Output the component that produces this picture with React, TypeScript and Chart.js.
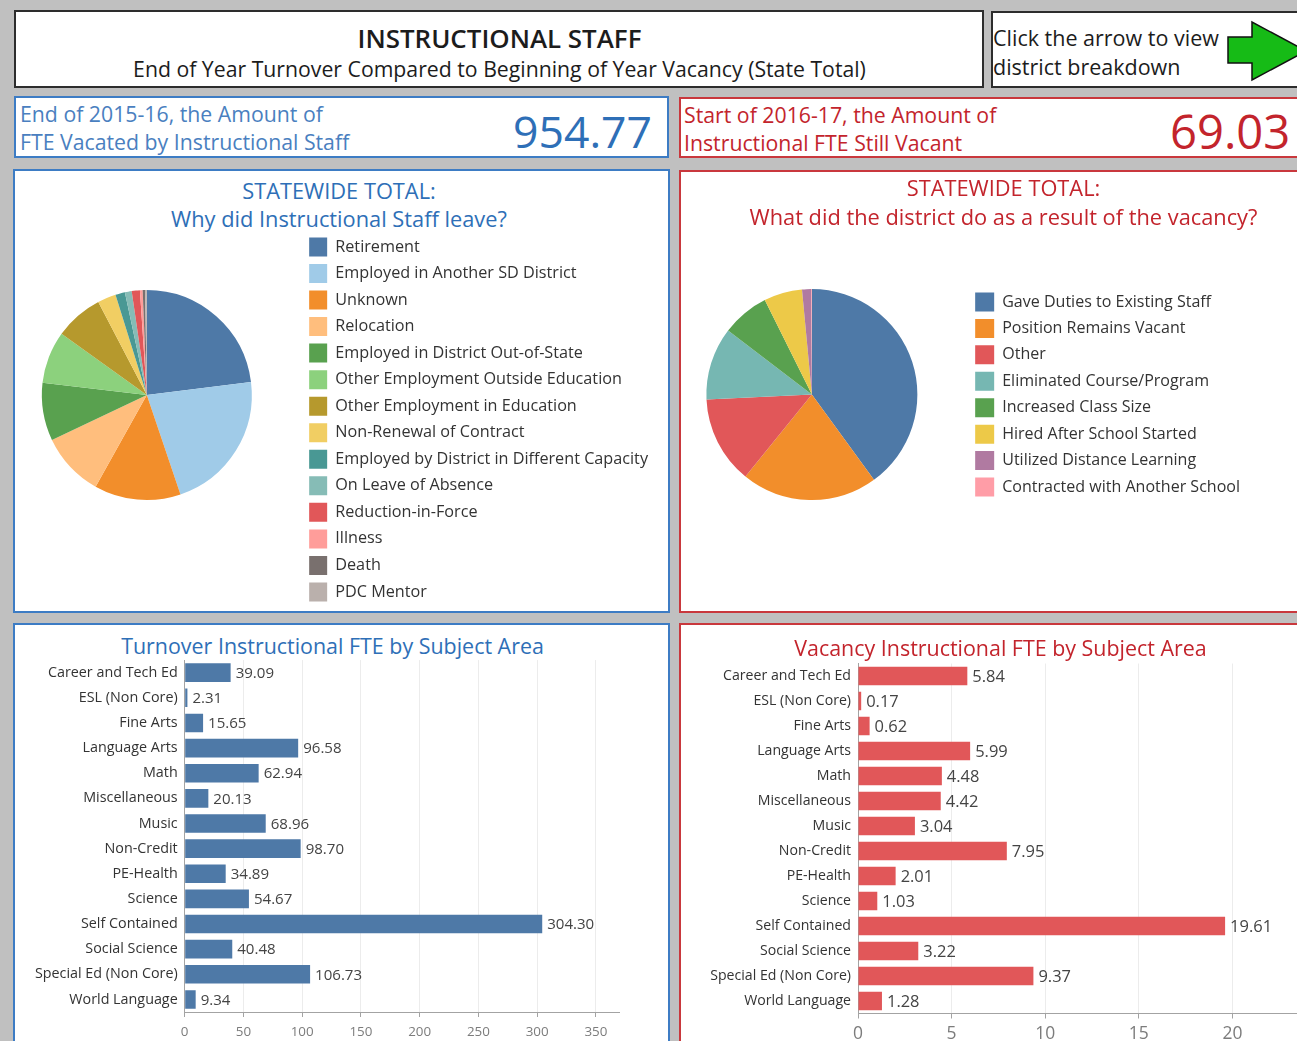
import React, { useEffect, useRef } from 'react';
import { Chart, registerables } from 'chart.js';

Chart.register(...registerables);

const FONT = '"Open Sans", "Noto Sans", sans-serif';
Chart.defaults.font.family = FONT;

// ---------------- data ----------------
const totalVacated = 954.77;
const totalStillVacant = 69.03;

const leaveReasons = [
  'Retirement',
  'Employed in Another SD District',
  'Unknown',
  'Relocation',
  'Employed in District Out-of-State',
  'Other Employment Outside Education',
  'Other Employment in Education',
  'Non-Renewal of Contract',
  'Employed by District in Different Capacity',
  'On Leave of Absence',
  'Reduction-in-Force',
  'Illness',
  'Death',
  'PDC Mentor',
];
const leaveFTE = [219.77, 208, 127, 94, 85, 77, 71, 27, 14, 10, 12, 4, 3.5, 2.5];
const leaveColors = [
  '#4e79a7', '#a0cbe8', '#f28e2b', '#ffbe7d', '#59a14f', '#8cd17d', '#b6992d',
  '#f1ce63', '#499894', '#86bcb6', '#e15759', '#ff9d9a', '#79706e', '#bab0ac',
];

const vacancyActions = [
  'Gave Duties to Existing Staff',
  'Position Remains Vacant',
  'Other',
  'Eliminated Course/Program',
  'Increased Class Size',
  'Hired After School Started',
  'Utilized Distance Learning',
  'Contracted with Another School',
];
const vacancyActionFTE = [27.6, 14.4, 9.25, 7.7, 5.0, 4.05, 0.95, 0.08];
const vacancyActionColors = ['#4e79a7', '#f28e2b', '#e15759', '#76b7b2', '#59a14f', '#edc948', '#b07aa1', '#ff9da7'];

const subjectAreas = [
  'Career and Tech Ed',
  'ESL (Non Core)',
  'Fine Arts',
  'Language Arts',
  'Math',
  'Miscellaneous',
  'Music',
  'Non-Credit',
  'PE-Health',
  'Science',
  'Self Contained',
  'Social Science',
  'Special Ed (Non Core)',
  'World Language',
];
const turnoverFTE = [39.09, 2.31, 15.65, 96.58, 62.94, 20.13, 68.96, 98.7, 34.89, 54.67, 304.3, 40.48, 106.73, 9.34];
const vacancyFTE = [5.84, 0.17, 0.62, 5.99, 4.48, 4.42, 3.04, 7.95, 2.01, 1.03, 19.61, 3.22, 9.37, 1.28];
const turnoverTicks = [0, 50, 100, 150, 200, 250, 300, 350];
const turnoverAxisMax = 370;
const vacancyTicks = [0, 5, 10, 15, 20, 25];
const vacancyAxisMax = 25;

// ---------------- helpers ----------------
let measureCtx: CanvasRenderingContext2D | null = null;
function textWidth(text: string, size: number, weight: string = 'normal') {
  if (!measureCtx) measureCtx = document.createElement('canvas').getContext('2d');
  measureCtx!.font = `${weight} ${size}px ${FONT}`;
  return measureCtx!.measureText(text).width;
}
function fitSize(text: string, target: number, weight: string = 'normal') {
  return (100 * target) / textWidth(text, 100, weight);
}

const PAGE_W = 1297;
const PAGE_H = 1041;

function Txt(props: { text: string; x: number; cy: number; align?: string; size: number; color: string; weight?: string }) {
  const { text, x, cy, align = 'left', size, color, weight = 'normal' } = props;
  const lh = Math.round(size * 1.4);
  const style: any = {
    position: 'absolute',
    top: cy - lh / 2,
    height: lh,
    lineHeight: lh + 'px',
    fontSize: size,
    fontFamily: FONT,
    fontWeight: weight,
    color,
    whiteSpace: 'nowrap',
  };
  if (align === 'left') style.left = x;
  else if (align === 'right') style.right = PAGE_W - x;
  else {
    style.left = x - 700;
    style.width = 1400;
    style.textAlign = 'center';
  }
  return <div style={style}>{text}</div>;
}

function Panel(props: { x: number; y: number; w: number; h: number; border: string }) {
  const { x, y, w, h, border } = props;
  return (
    <div
      style={{
        position: 'absolute',
        left: x,
        top: y,
        width: w,
        height: h,
        boxSizing: 'border-box',
        background: '#ffffff',
        border,
      }}
    />
  );
}

const valueLabelPlugin = {
  id: 'valueLabels',
  afterDatasetsDraw(chart: any, _args: any, opts: any) {
    const ctx = chart.ctx;
    const meta = chart.getDatasetMeta(0);
    const data = chart.data.datasets[0].data;
    ctx.save();
    ctx.font = `${opts.size}px ${FONT}`;
    ctx.fillStyle = opts.color;
    ctx.textBaseline = 'middle';
    ctx.textAlign = 'left';
    meta.data.forEach((bar: any, i: number) => {
      const p = bar.getProps(['x', 'y'], true);
      ctx.fillText(Number(data[i]).toFixed(2), p.x + opts.gap, p.y + 1);
    });
    ctx.restore();
  },
};

function PieChart(props: {
  labels: string[];
  values: number[];
  colors: string[];
  cx: number;
  radius: number;
  boxLeft: number;
  boxW: number;
  boxH: number;
  spacing: number;
  fontSize: number;
  align: 'start' | 'center' | 'end';
  top: number;
  height: number;
}) {
  const { labels, values, colors, cx, radius, boxLeft, boxW, boxH, spacing, fontSize, align, top, height } = props;
  const ref = useRef<HTMLCanvasElement>(null);
  const itemH = Math.max(boxH, fontSize);
  const pad = spacing - itemH;
  const maxText = Math.max(...labels.map((l) => textWidth(l, fontSize)));
  const legendLeft = boxLeft - pad;
  const canvasLeft = Math.round(2 * cx - legendLeft);
  const legendWidth = pad + boxW + fontSize / 2 + maxText + 10;
  const width = Math.round(legendLeft - canvasLeft + legendWidth);

  useEffect(() => {
    const chart = new Chart(ref.current!, {
      type: 'pie',
      data: {
        labels,
        datasets: [{ data: values, backgroundColor: colors, borderWidth: 0, radius } as any],
      },
      options: {
        responsive: false,
        animation: false,
        devicePixelRatio: 1,
        layout: { padding: 0 },
        plugins: {
          legend: {
            position: 'right',
            align,
            maxWidth: 3000,
            labels: {
              boxWidth: boxW,
              boxHeight: boxH,
              padding: pad,
              color: '#333333',
              font: { family: FONT, size: fontSize },
            },
          } as any,
          tooltip: { enabled: false },
        },
      },
    });
    return () => chart.destroy();
  }, []);

  return (
    <canvas
      ref={ref}
      width={width}
      height={height}
      style={{ position: 'absolute', left: canvasLeft, top, width, height }}
    />
  );
}

function HBarChart(props: {
  labels: string[];
  values: number[];
  color: string;
  ticks: number[];
  max: number;
  left: number;
  top: number;
  width: number;
  height: number;
  areaLeft: number;
  areaTop: number;
  areaRight: number;
  areaBottom: number;
  catSize: number;
  valSize: number;
  tickSize: number;
  tickPad: number;
}) {
  const p = props;
  const ref = useRef<HTMLCanvasElement>(null);
  useEffect(() => {
    const chart = new Chart(ref.current!, {
      type: 'bar',
      data: {
        labels: p.labels,
        datasets: [
          {
            data: p.values,
            backgroundColor: p.color,
            borderWidth: 0,
            categoryPercentage: 1,
            barPercentage: 0.74,
          },
        ],
      },
      options: {
        indexAxis: 'y',
        responsive: false,
        animation: false,
        devicePixelRatio: 1,
        layout: {
          padding: { top: p.areaTop - p.top, right: p.left + p.width - p.areaRight, left: 0, bottom: 0 },
        },
        plugins: {
          legend: { display: false },
          tooltip: { enabled: false },
          valueLabels: { size: p.valSize, color: '#444444', gap: 5 },
        } as any,
        scales: {
          y: {
            afterFit: (s: any) => {
              s.width = p.areaLeft - p.left;
            },
            grid: { display: false, drawTicks: false },
            border: { display: true, color: '#a3a3a3', width: 1 },
            ticks: { color: '#333333', padding: 7, autoSkip: false, font: { family: FONT, size: p.catSize } },
          },
          x: {
            min: 0,
            max: p.max,
            afterBuildTicks: (s: any) => {
              s.ticks = p.ticks.map((v) => ({ value: v }));
            },
            afterFit: (s: any) => {
              s.height = p.top + p.height - p.areaBottom;
            },
            grid: { color: '#ececec', tickColor: '#a3a3a3', tickLength: 5 },
            border: { display: true, color: '#a3a3a3', width: 1 },
            ticks: { color: '#7c7c7c', padding: p.tickPad, font: { family: FONT, size: p.tickSize } },
          },
        },
      } as any,
      plugins: [valueLabelPlugin],
    });
    return () => chart.destroy();
  }, []);
  return (
    <canvas
      ref={ref}
      width={p.width}
      height={p.height}
      style={{ position: 'absolute', left: p.left, top: p.top, width: p.width, height: p.height }}
    />
  );
}

// ---------------- app ----------------
export default function App() {
  const titleSize = fitSize('INSTRUCTIONAL STAFF', 284, '600');
  const subSize = fitSize('End of Year Turnover Compared to Beginning of Year Vacancy (State Total)', 733);
  const arrowSize = fitSize('Click the arrow to view', 226);
  const kpiSize = fitSize('End of 2015-16, the Amount of', 303);
  const kpiNumSize = fitSize(totalVacated.toFixed(2), 139);
  const pieTitleSize = fitSize('Why did Instructional Staff leave?', 336);
  const barTitleSize = fitSize('Turnover Instructional FTE by Subject Area', 423);
  const leftLegendSize = fitSize('Employed by District in Different Capacity', 313);
  const rightLegendSize = fitSize('Contracted with Another School', 238);
  const leftCatSize = fitSize('Special Ed (Non Core)', 143);
  const rightCatSize = fitSize('Special Ed (Non Core)', 141);
  const leftValSize = fitSize('304.30', 47);
  const rightValSize = fitSize('19.61', 42);
  const leftTickSize = fitSize('350', 23);
  const rightTickSize = fitSize('20', 20);

  const blue = '#2e6fb7';
  const blueText = '#4a7fc0';
  const red = '#c3242c';
  const blueBorder = '2px solid #3d7cc4';
  const redBorder = '2px solid #c9383d';
  const darkBorder = '2px solid #2d2d2d';

  return (
    <div
      style={{
        position: 'absolute',
        left: 0,
        top: 0,
        width: PAGE_W,
        height: PAGE_H,
        overflow: 'hidden',
        background: '#c0c0c0',
        fontFamily: FONT,
      }}
    >
      {/* header */}
      <Panel x={14} y={10} w={970} h={78} border={darkBorder} />
      <Txt text="INSTRUCTIONAL STAFF" x={499.5} cy={37.5} align="center" size={titleSize} color="#1c1c1c" weight="600" />
      <Txt
        text="End of Year Turnover Compared to Beginning of Year Vacancy (State Total)"
        x={499.5}
        cy={68.5}
        align="center"
        size={subSize}
        color="#1c1c1c"
      />

      <Panel x={991} y={11} w={330} h={77} border={darkBorder} />
      <Txt text="Click the arrow to view" x={993} cy={38} size={arrowSize} color="#1c1c1c" />
      <Txt text="district breakdown" x={993} cy={67} size={arrowSize} color="#1c1c1c" />
      <svg
        width={PAGE_W}
        height={110}
        style={{ position: 'absolute', left: 0, top: 0, pointerEvents: 'none' }}
      >
        <polygon
          points="1228,37 1252,37 1252,22 1306,51 1252,80 1252,63 1228,63"
          fill="#16bb16"
          stroke="#111111"
          strokeWidth={1.5}
          strokeLinejoin="miter"
        />
      </svg>

      {/* KPI boxes */}
      <Panel x={14} y={96} w={655} h={62} border={blueBorder} />
      <Txt text="End of 2015-16, the Amount of" x={20} cy={113.8} size={kpiSize} color={blueText} />
      <Txt text="FTE Vacated by Instructional Staff" x={20} cy={141.5} size={kpiSize} color={blueText} />
      <Txt text={totalVacated.toFixed(2)} x={652} cy={130.8} align="right" size={kpiNumSize} color={blue} />

      <Panel x={679} y={97} w={640} h={61} border={redBorder} />
      <Txt text="Start of 2016-17, the Amount of" x={684} cy={115} size={kpiSize} color={red} />
      <Txt text="Instructional FTE Still Vacant" x={684} cy={143.3} size={kpiSize} color={red} />
      <Txt text={totalStillVacant.toFixed(2)} x={1170} cy={130.8} size={kpiNumSize * 1.06} color={red} />

      {/* pie panels */}
      <Panel x={13} y={169} w={657} h={444} border={blueBorder} />
      <Txt text="STATEWIDE TOTAL:" x={339} cy={190.8} align="center" size={pieTitleSize} color={blue} />
      <Txt text="Why did Instructional Staff leave?" x={339} cy={218.5} align="center" size={pieTitleSize} color={blue} />
      <PieChart
        labels={leaveReasons}
        values={leaveFTE}
        colors={leaveColors}
        cx={147}
        radius={105}
        boxLeft={309.3}
        boxW={18}
        boxH={19}
        spacing={26.54}
        fontSize={leftLegendSize}
        align="end"
        top={181}
        height={428}
      />

      <Panel x={679} y={170} w={640} h={443} border={redBorder} />
      <Txt text="STATEWIDE TOTAL:" x={1003.5} cy={187.2} align="center" size={pieTitleSize} color={red} />
      <Txt
        text="What did the district do as a result of the vacancy?"
        x={1003.5}
        cy={216.3}
        align="center"
        size={pieTitleSize}
        color={red}
      />
      <PieChart
        labels={vacancyActions}
        values={vacancyActionFTE}
        colors={vacancyActionColors}
        cx={811.9}
        radius={105.5}
        boxLeft={975.3}
        boxW={19}
        boxH={19}
        spacing={26.43}
        fontSize={rightLegendSize}
        align="center"
        top={181}
        height={427}
      />

      {/* bar panels */}
      <Panel x={13} y={623} w={657} h={440} border={blueBorder} />
      <Txt
        text="Turnover Instructional FTE by Subject Area"
        x={332.5}
        cy={645.8}
        align="center"
        size={barTitleSize}
        color={blue}
      />
      <HBarChart
        labels={subjectAreas}
        values={turnoverFTE}
        color="#4e79a7"
        ticks={turnoverTicks}
        max={turnoverAxisMax}
        left={15}
        top={620}
        width={653}
        height={430}
        areaLeft={184.7}
        areaTop={660.1}
        areaRight={184.7 + turnoverAxisMax * 1.1749}
        areaBottom={1012}
        catSize={leftCatSize}
        valSize={leftValSize}
        tickSize={leftTickSize}
        tickPad={7}
      />

      <Panel x={679} y={623} w={640} h={440} border={redBorder} />
      <Txt
        text="Vacancy Instructional FTE by Subject Area"
        x={1000.5}
        cy={647.5}
        align="center"
        size={barTitleSize}
        color={red}
      />
      <HBarChart
        labels={subjectAreas}
        values={vacancyFTE}
        color="#e15759"
        ticks={vacancyTicks}
        max={vacancyAxisMax}
        left={681}
        top={620}
        width={665}
        height={430}
        areaLeft={858}
        areaTop={663.5}
        areaRight={858 + vacancyAxisMax * 18.72}
        areaBottom={1013.5}
        catSize={rightCatSize}
        valSize={rightValSize}
        tickSize={rightTickSize}
        tickPad={5}
      />
    </div>
  );
}
